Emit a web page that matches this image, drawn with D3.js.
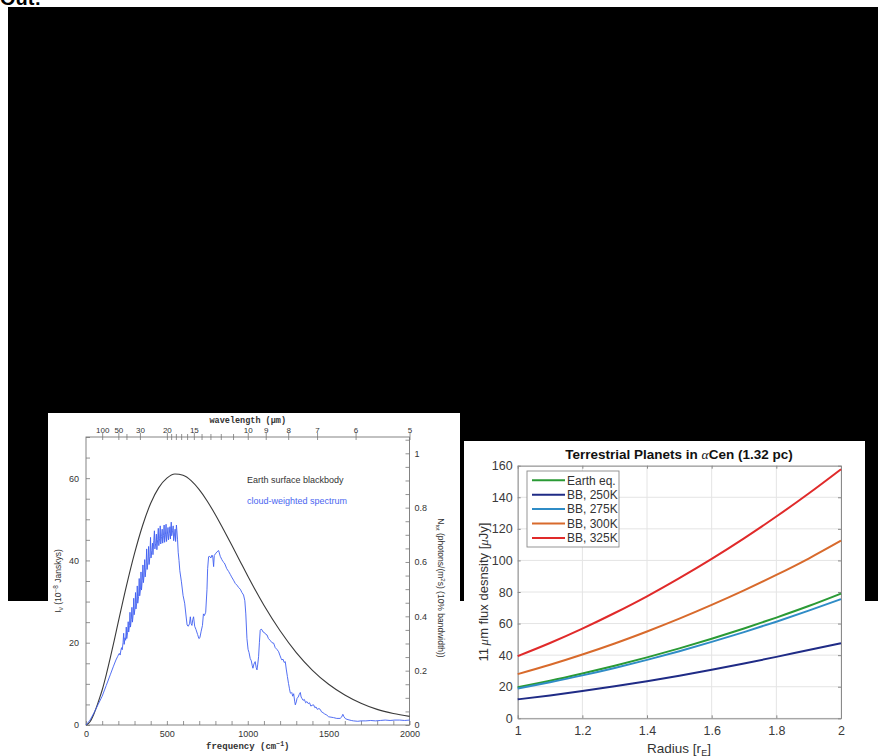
<!DOCTYPE html>
<html><head><meta charset="utf-8">
<script src="https://cdn.jsdelivr.net/npm/d3@7/dist/d3.min.js"></script>
<style>body{margin:0;background:#fff}svg{display:block}</style>
</head><body><svg id="c" width="878" height="756"></svg>
<script>
// ---------- Left chart data (Earth spectrum) ----------
const bbFreq = [0,25,50,75,100,125,150,175,200,250,300,350,400,450,500,550,600,650,700,750,800,850,900,950,1000,1100,1200,1300,1400,1500,1600,1700,1800,1900,2000];
const bbIntensity = [0,0.8,2.8,5.5,8.5,12.2,16.3,20.6,25.1,33.8,41.7,48.5,53.9,57.7,60.0,61.0,60.7,59.4,57.2,54.4,51.1,47.5,43.8,40.0,36.2,29.1,22.9,17.6,13.3,9.9,7.3,5.3,3.8,2.8,2.1];
const cloudSpectrum = [[0,0],[25,1.2],[50,3.0],[75,5.0],[100,7.0],[125,9.6],[150,12.2],[170,14.3],[185,15.8],[195,16.6],[200,17.0],[206,17.4],[211,17.0],[216,18.2],[220,18.8],[224,18.3],[229,20.0],[233,22.3],[236,19.6],[241,21.2],[245,20.6],[249,23.8],[252,21.0],[257,22.4],[261,25.1],[264,22.6],[269,24.2],[272,27.4],[275,23.8],[280,25.6],[284,28.6],[287,25.0],[292,27.0],[295,30.8],[298,26.8],[303,28.4],[306,32.2],[309,28.2],[313,29.6],[317,33.8],[320,29.6],[325,31.2],[329,35.6],[332,31.4],[337,33.0],[340,37.2],[343,32.8],[348,35.2],[352,38.9],[355,34.6],[359,36.4],[363,40.2],[366,36.0],[371,38.2],[375,42.8],[378,37.8],[383,39.6],[387,43.4],[390,39.0],[395,41.0],[399,45.6],[402,40.6],[407,42.4],[411,44.2],[414,41.4],[419,44.8],[423,47.2],[426,42.8],[431,44.2],[435,46.4],[438,42.6],[443,45.0],[447,47.8],[450,43.6],[455,45.4],[459,48.4],[462,44.0],[467,45.8],[471,47.6],[474,44.2],[479,46.0],[483,48.6],[486,44.4],[491,46.2],[495,48.8],[498,44.6],[503,46.4],[507,48.0],[510,45.0],[515,46.6],[519,48.2],[522,45.2],[527,49.3],[530,46.0],[535,47.2],[539,48.4],[542,44.8],[547,46.2],[551,47.6],[554,44.6],[559,48.6],[562,47.2],[566,45.0],[570,42.0],[575,40.0],[580,37.5],[590,34.8],[600,31.5],[610,29.6],[620,26.0],[625,24.3],[632,24.0],[640,24.6],[645,26.3],[650,24.6],[655,24.2],[660,25.6],[665,26.3],[672,24.0],[680,23.2],[690,22.0],[698,21.0],[704,21.2],[712,22.8],[720,24.2],[726,27.0],[732,26.6],[740,27.4],[748,33.0],[752,38.0],[758,40.9],[765,41.0],[772,40.6],[779,41.3],[784,40.8],[789,38.5],[793,41.2],[800,41.6],[810,42.1],[820,42.4],[830,41.0],[840,40.2],[847,39.7],[855,39.4],[861,38.9],[870,38.0],[882,37.3],[892,36.6],[900,36.0],[912,35.2],[923,34.4],[933,34.0],[944,33.4],[954,33.0],[964,32.2],[974,31.6],[982,30.2],[988,27.0],[995,21.0],[1002,18.4],[1008,17.6],[1015,16.2],[1022,15.6],[1028,14.4],[1032,13.8],[1038,14.8],[1046,15.4],[1052,14.0],[1057,13.4],[1062,14.8],[1067,16.6],[1072,20.0],[1077,23.0],[1082,23.3],[1087,23.2],[1095,22.6],[1105,22.4],[1112,22.0],[1119,21.9],[1128,21.0],[1138,20.6],[1150,20.0],[1160,19.9],[1170,18.8],[1180,18.4],[1191,17.8],[1200,16.8],[1206,16.2],[1211,15.8],[1218,16.0],[1225,15.2],[1232,15.4],[1238,13.6],[1245,11.8],[1252,10.1],[1258,8.8],[1263,7.8],[1267,7.7],[1272,7.9],[1278,7.0],[1284,7.6],[1290,5.8],[1294,4.9],[1300,5.6],[1305,6.5],[1312,6.8],[1318,7.4],[1325,7.9],[1330,6.8],[1336,6.4],[1342,6.0],[1350,6.2],[1358,5.4],[1366,5.7],[1374,5.2],[1382,5.4],[1390,4.6],[1398,4.8],[1407,4.9],[1415,4.2],[1422,4.4],[1430,3.8],[1440,4.0],[1448,3.8],[1456,3.2],[1465,3.0],[1475,2.7],[1489,2.4],[1500,2.0],[1515,1.9],[1530,1.8],[1550,1.6],[1571,1.6],[1580,1.9],[1588,2.6],[1595,2.0],[1605,1.5],[1620,1.3],[1640,1.1],[1654,1.0],[1680,0.9],[1700,1.0],[1730,1.0],[1760,1.1],[1790,1.0],[1820,1.1],[1850,1.2],[1880,1.1],[1910,1.2],[1940,1.2],[1970,1.1],[2000,1.2]];
const freqLabels = [0,500,1000,1500,2000];
const intensityLabels = [0,20,40,60];
const photonLabels = [0,0.2,0.4,0.6,0.8,1];
const wavelengthMajor = [100,50,30,20,15,10,9,8,7,6,5];
const wavelengthMinor = [40,19,18,17,16,14,13,12,11];
const leftLegend = ["Earth surface blackbody","cloud-weighted spectrum"];

// ---------- Right chart data (alpha Cen) ----------
const radius = [1,1.1,1.2,1.3,1.4,1.5,1.6,1.7,1.8,1.9,2];
const earthEq = [19.7,23.8,28.4,33.3,38.6,44.3,50.4,56.9,63.8,71.1,79.0];
const bb250 = [12.0,14.5,17.3,20.3,23.5,27.0,30.7,34.7,38.9,43.3,47.6];
const bb275 = [18.9,22.9,27.2,31.9,37.0,42.5,48.4,54.6,61.2,68.2,75.5];
const bb300 = [28.0,33.9,40.4,47.4,55.0,63.1,71.8,81.0,90.8,101.2,112.5];
const bb325 = [39.4,47.7,56.8,66.7,77.3,88.8,101.0,114.0,127.8,142.4,157.8];
const seriesNames = ["Earth eq.","BB, 250K","BB, 275K","BB, 300K","BB, 325K"];
const seriesColors = ["#2a9a35","#1f2b86","#2f8cc6","#d86a2c","#e02a2a"];
const radiusTicks = [1,1.2,1.4,1.6,1.8,2];
const fluxTicks = [0,20,40,60,80,100,120,140,160];

const svg = d3.select("#c");

// ---------- page background pieces ----------
svg.append("text").attr("x",0).attr("y",5)
  .style("font","bold 20px 'Liberation Sans', Arial, sans-serif").attr("fill","#000").text("Out:");
svg.append("rect").attr("x",8).attr("y",7).attr("width",870).attr("height",594).attr("fill","#000");
svg.append("rect").attr("x",48).attr("y",413).attr("width",412).attr("height",343).attr("fill","#fff");
svg.append("rect").attr("x",464).attr("y",441).attr("width",401).attr("height",315).attr("fill","#fff");

// ---------- LEFT CHART ----------
const L = svg.append("g");
const lx = d3.scaleLinear([0,2000],[86,409.5]);
const ly = d3.scaleLinear([0,70],[725,437]);
const lyR = d3.scaleLinear([0,1.06],[725,437]);
const sansS = "'Liberation Sans', Arial, sans-serif";
const monoS = "'Liberation Mono', 'Courier New', monospace";

function styleAxis(g, size){
  g.select(".domain").remove();
  g.selectAll(".tick line").attr("stroke","#777").attr("stroke-width",0.8);
  g.selectAll(".tick text").attr("fill","#333").style("font-family",sansS).style("font-size",size+"px");
}

// frame
L.append("rect").attr("x",lx(0)).attr("y",ly(70)).attr("width",lx(2000)-lx(0)).attr("height",ly(0)-ly(70))
  .attr("fill","none").attr("stroke","#777").attr("stroke-width",0.9);

// left axis
L.append("g").attr("transform",`translate(${lx(0)},0)`)
  .call(d3.axisLeft(ly).tickValues(d3.range(0,71,5)).tickSizeInner(-4).tickSizeOuter(0).tickPadding(7)
    .tickFormat(d=>intensityLabels.includes(d)?d:""))
  .call(g=>styleAxis(g,9));
// right axis
const rTicks = d3.range(0,22).map(i=>i*0.05);
L.append("g").attr("transform",`translate(${lx(2000)},0)`)
  .call(d3.axisRight(lyR).tickValues(rTicks).tickSizeInner(-4).tickSizeOuter(0).tickPadding(5)
    .tickFormat(d=>{const k=Math.round(d*5); return Math.abs(d*5-k)<1e-6 && photonLabels.includes(k/5)? d3.format("~g")(k/5):"";}))
  .call(g=>styleAxis(g,9));
// bottom axis
L.append("g").attr("transform",`translate(0,${ly(0)})`)
  .call(d3.axisBottom(lx).tickValues(d3.range(0,2001,100)).tickSizeInner(-4).tickSizeOuter(0).tickPadding(6)
    .tickFormat(d=>freqLabels.includes(d)?d:""))
  .call(g=>styleAxis(g,9));
// top wavelength axis
L.append("g").attr("transform",`translate(0,${ly(70)+3})`)
  .call(d3.axisTop(lx).tickValues(wavelengthMajor.map(w=>1e4/w)).tickSizeInner(7).tickSizeOuter(0).tickPadding(0)
    .tickFormat((d,i)=>wavelengthMajor[i]))
  .call(g=>styleAxis(g,8));
L.append("g").attr("transform",`translate(0,${ly(70)+3})`)
  .call(d3.axisTop(lx).tickValues(wavelengthMinor.map(w=>1e4/w)).tickSizeInner(6).tickSizeOuter(0).tickFormat(""))
  .call(g=>styleAxis(g,8));

// axis titles
L.append("text").attr("x",(lx(0)+lx(2000))/2).attr("y",423).attr("text-anchor","middle")
  .style("font",`bold 8.5px ${monoS}`).attr("fill","#333").text("wavelength (\u03bcm)");
const ft = L.append("text").attr("x",(lx(0)+lx(2000))/2).attr("y",748.5).attr("text-anchor","middle")
  .style("font",`bold 9px ${monoS}`).attr("fill","#333");
ft.append("tspan").text("frequency (cm");
ft.append("tspan").attr("dy",-3).style("font-size","6.5px").text("\u22121");
ft.append("tspan").attr("dy",3).text(")");

const yl = L.append("text").attr("transform","translate(61,581) rotate(-90)").attr("text-anchor","middle")
  .style("font",`8.5px ${sansS}`).attr("fill","#333");
yl.append("tspan").text("I");
yl.append("tspan").attr("dy",2).style("font-size","6.5px").text("\u03bd");
yl.append("tspan").attr("dy",-2).text(" (10");
yl.append("tspan").attr("dy",-3).style("font-size","6.5px").text("\u22128");
yl.append("tspan").attr("dy",3).text(" Janskys)");

const yr2 = L.append("text").attr("transform","translate(438,588) rotate(90)").attr("text-anchor","middle")
  .style("font",`8.5px ${sansS}`).attr("fill","#333");
yr2.append("tspan").text("N");
yr2.append("tspan").attr("dy",2).style("font-size","5.5px").text("tot");
yr2.append("tspan").attr("dy",-2).text(" (photons/(m");
yr2.append("tspan").attr("dy",-3).style("font-size","6px").text("2");
yr2.append("tspan").attr("dy",3).text("s) (10% bandwidth))");

// legend texts
L.append("text").attr("x",247).attr("y",483).style("font",`9px ${sansS}`).attr("fill","#333").text(leftLegend[0]);
L.append("text").attr("x",247).attr("y",504).style("font",`9px ${sansS}`).attr("fill","#4a66f0").text(leftLegend[1]);

// curves
const bbLine = d3.line().x((d,i)=>lx(bbFreq[i])).y(d=>ly(d)).curve(d3.curveMonotoneX);
L.append("path").attr("d",bbLine(bbIntensity)).attr("fill","none").attr("stroke","#3a3a3a").attr("stroke-width",1.1);
const cLine = d3.line().x(d=>lx(d[0])).y(d=>ly(d[1]));
L.append("path").attr("d",cLine(cloudSpectrum)).attr("fill","none").attr("stroke","#3f5ff0").attr("stroke-width",0.9);

// ---------- RIGHT CHART ----------
const R = svg.append("g");
const rx = d3.scaleLinear([1,2],[517.7,841]);
const ry = d3.scaleLinear([0,160],[718.3,465.7]);

// grid
R.append("g").selectAll("line").data(radiusTicks).join("line")
  .attr("x1",d=>rx(d)).attr("x2",d=>rx(d)).attr("y1",ry(0)).attr("y2",ry(160))
  .attr("stroke","#e4e4e4").attr("stroke-width",1);
R.append("g").selectAll("line").data(fluxTicks).join("line")
  .attr("x1",rx(1)).attr("x2",rx(2)).attr("y1",d=>ry(d)).attr("y2",d=>ry(d))
  .attr("stroke","#e4e4e4").attr("stroke-width",1);

function styleR(g){
  g.select(".domain").attr("stroke","#8a8a8a");
  g.selectAll(".tick line").attr("stroke","#8a8a8a");
  g.selectAll(".tick text").attr("fill","#3a3a3a").style("font-family",sansS).style("font-size","12.5px");
}
R.append("g").attr("transform",`translate(0,${ry(0)})`)
  .call(d3.axisBottom(rx).tickValues(radiusTicks).tickSizeInner(-3).tickSizeOuter(0).tickPadding(8).tickFormat(d3.format("~g")))
  .call(styleR);
R.append("g").attr("transform",`translate(${rx(1)},0)`)
  .call(d3.axisLeft(ry).tickValues(fluxTicks).tickSizeInner(-3).tickSizeOuter(0).tickPadding(5))
  .call(styleR);
R.append("g").attr("transform",`translate(0,${ry(160)})`)
  .call(d3.axisTop(rx).tickValues(radiusTicks).tickSizeInner(-3).tickSizeOuter(0).tickFormat(""))
  .call(styleR);
R.append("g").attr("transform",`translate(${rx(2)},0)`)
  .call(d3.axisRight(ry).tickValues(fluxTicks).tickSizeInner(-3).tickSizeOuter(0).tickFormat(""))
  .call(styleR);

// lines
const allSeries = [earthEq,bb250,bb275,bb300,bb325];
const rLine = d3.line().x((d,i)=>rx(radius[i])).y(d=>ry(d)).curve(d3.curveMonotoneX);
R.append("g").selectAll("path").data(allSeries).join("path")
  .attr("d",d=>rLine(d)).attr("fill","none").attr("stroke",(d,i)=>seriesColors[i]).attr("stroke-width",2);

// title
const tt = R.append("text").attr("x",679).attr("y",459).attr("text-anchor","middle")
  .style("font",`bold 13.5px ${sansS}`).attr("fill","#111");
tt.append("tspan").text("Terrestrial Planets in ");
tt.append("tspan").style("font-family","'Liberation Serif', 'Times New Roman', serif").style("font-style","italic").style("font-weight","normal").text("\u03b1");
tt.append("tspan").text("Cen (1.32 pc)");

// axis labels
const xl = R.append("text").attr("x",679).attr("y",753).attr("text-anchor","middle")
  .style("font",`13.5px ${sansS}`).attr("fill","#333");
xl.append("tspan").text("Radius [r");
xl.append("tspan").attr("dy",3).style("font-size","9px").text("E");
xl.append("tspan").attr("dy",-3).text("]");

const ylr = R.append("text").attr("transform","translate(488,592) rotate(-90)").attr("text-anchor","middle")
  .style("font",`13px ${sansS}`).attr("fill","#333");
ylr.append("tspan").text("11");
ylr.append("tspan").style("font-family","'Liberation Serif', serif").style("font-style","italic").text("\u2009\u03bc");
ylr.append("tspan").text("m flux desnsity [");
ylr.append("tspan").style("font-family","'Liberation Serif', serif").style("font-style","italic").text("\u03bc");
ylr.append("tspan").text("Jy]");

// legend
const lg = R.append("g");
lg.append("rect").attr("x",527).attr("y",471).attr("width",92).attr("height",76)
  .attr("fill","#fff").attr("stroke","#8a8a8a").attr("stroke-width",0.9);
const items = lg.selectAll("g").data(seriesNames).join("g")
  .attr("transform",(d,i)=>`translate(0,${480.3+i*14.4})`);
items.append("line").attr("x1",532).attr("x2",565).attr("y1",0).attr("y2",0)
  .attr("stroke",(d,i)=>seriesColors[i]).attr("stroke-width",2);
items.append("text").attr("x",567).attr("y",4.3).style("font",`12px ${sansS}`).attr("fill","#333").text(d=>d);
</script>
</body></html>
